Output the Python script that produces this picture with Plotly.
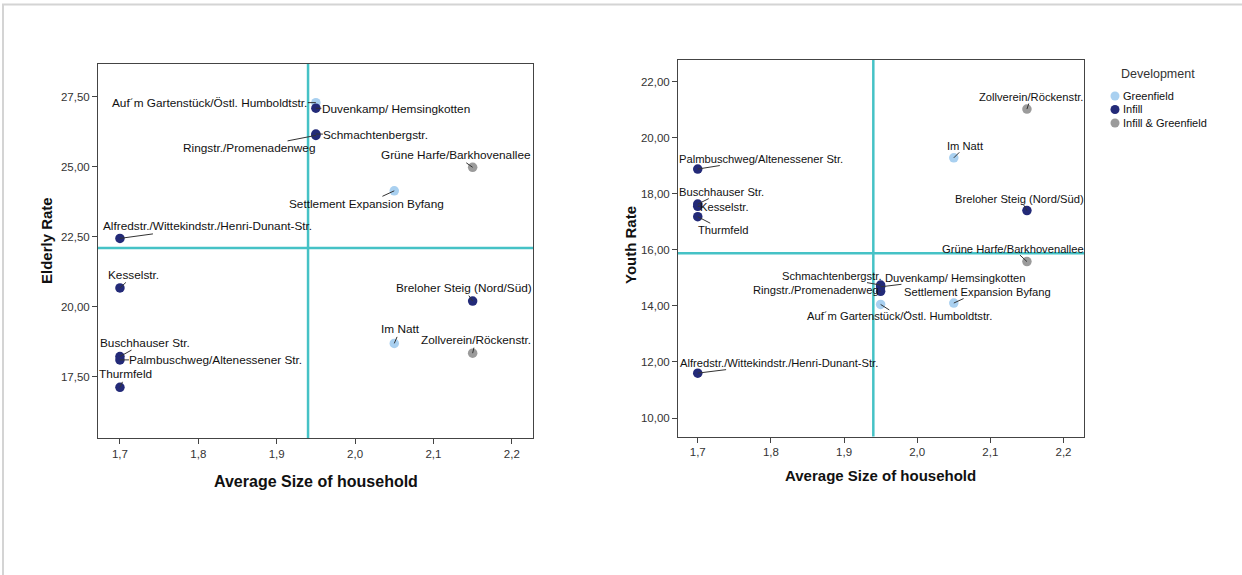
import plotly.graph_objects as go

# ---------------- data ----------------
names = [
    "Auf´m Gartenstück/Östl. Humboldtstr.",
    "Duvenkamp/ Hemsingkotten",
    "Schmachtenbergstr.",
    "Ringstr./Promenadenweg",
    "Grüne Harfe/Barkhovenallee",
    "Settlement Expansion Byfang",
    "Alfredstr./Wittekindstr./Henri-Dunant-Str.",
    "Kesselstr.",
    "Breloher Steig (Nord/Süd)",
    "Im Natt",
    "Zollverein/Röckenstr.",
    "Buschhauser Str.",
    "Palmbuschweg/Altenessener Str.",
    "Thurmfeld",
]
development = [
    "Greenfield", "Infill", "Infill", "Infill", "Infill & Greenfield",
    "Greenfield", "Infill", "Infill", "Infill", "Greenfield",
    "Infill & Greenfield", "Infill", "Infill", "Infill",
]
avg_household = [1.95, 1.95, 1.95, 1.95, 2.15, 2.05, 1.70, 1.70, 2.15, 2.05, 2.15, 1.70, 1.70, 1.70]
elderly_rate = [27.29, 27.09, 26.17, 26.12, 24.98, 24.14, 22.44, 20.67, 20.20, 18.69, 18.34, 18.22, 18.10, 17.12]
youth_rate = [14.05, 14.68, 14.74, 14.52, 15.58, 14.10, 11.60, 17.55, 17.40, 19.28, 21.02, 17.63, 18.88, 17.18]

categories = ["Greenfield", "Infill", "Infill & Greenfield"]
ref_household = 1.94
ref_elderly = 22.10
ref_youth = 15.88

x_ticks = [1.7, 1.8, 1.9, 2.0, 2.1, 2.2]
elderly_ticks = [17.5, 20.0, 22.5, 25.0, 27.5]
youth_ticks = [10, 12, 14, 16, 18, 20, 22]

# ---------------- styles / layout ----------------
W, H = 1242, 575
colors = {"Greenfield": "#a9d0f0", "Infill": "#232a78", "Infill & Greenfield": "#9b9b9b"}
FONT = "Liberation Sans, Arial, sans-serif"
REF_COLOR = "#45c2c6"

# label offsets (pixels) relative to points
left_off = [(-106, 0), (80, 1), (60, 1), (-67, 13), (-17, -12), (-28, 13), (88, -12),
            (14, -13), (-9, -13), (6, -14), (3, -13), (25, -14), (96, 0), (6, -13)]
right_off = [(19, 12), (75, -9), (-49, -9), (-65, -1), (-14, -13), (24, -11), (81, -10),
             (27, 1), (-7, -12), (12, -12), (4, -12), (24, -12), (63, -10), (25, 13)]


def px_x(p):
    return p / W


def px_y(p):
    return 1 - p / H


fig = go.Figure()

for cat in categories:
    idx = [i for i, d in enumerate(development) if d == cat]
    fig.add_trace(go.Scatter(
        x=[avg_household[i] for i in idx], y=[elderly_rate[i] for i in idx],
        mode="markers", marker=dict(size=9.5, color=colors[cat], line=dict(width=0)),
        name=cat, showlegend=False, xaxis="x", yaxis="y", hoverinfo="skip"))
    fig.add_trace(go.Scatter(
        x=[avg_household[i] for i in idx], y=[youth_rate[i] for i in idx],
        mode="markers", marker=dict(size=9.5, color=colors[cat], line=dict(width=0)),
        name=cat, showlegend=False, xaxis="x2", yaxis="y2", hoverinfo="skip"))

annotations = []
for i, n in enumerate(names):
    for xr, yr, yv, off, fs in (("x", "y", elderly_rate[i], left_off[i], 11.8),
                                ("x2", "y2", youth_rate[i], right_off[i], 11.2)):
        annotations.append(dict(
            x=avg_household[i], y=yv, xref=xr, yref=yr, text=n,
            showarrow=True, arrowhead=0, arrowwidth=1, arrowcolor="#333333",
            ax=off[0], ay=off[1], standoff=0, startstandoff=0,
            font=dict(family=FONT, size=fs, color="#111111"), borderpad=0))

# axis titles
title_font = dict(family=FONT, color="#111111")
annotations += [
    dict(text="<b>Average Size of household</b>", x=px_x(316), y=px_y(481), xref="paper", yref="paper",
         xanchor="center", yanchor="middle", showarrow=False, font=dict(size=16, **title_font)),
    dict(text="<b>Average Size of household</b>", x=px_x(880), y=px_y(475), xref="paper", yref="paper",
         xanchor="center", yanchor="middle", showarrow=False, font=dict(size=15, **title_font)),
    dict(text="<b>Elderly Rate</b>", x=px_x(46), y=px_y(241), xref="paper", yref="paper",
         xanchor="center", yanchor="middle", showarrow=False, textangle=-90,
         font=dict(size=15, **title_font)),
    dict(text="<b>Youth Rate</b>", x=px_x(630), y=px_y(245), xref="paper", yref="paper",
         xanchor="center", yanchor="middle", showarrow=False, textangle=-90,
         font=dict(size=15, **title_font)),
]

# custom legend
annotations.append(dict(text="Development", x=px_x(1158), y=px_y(74), xref="paper", yref="paper",
                        xanchor="center", yanchor="middle", showarrow=False,
                        font=dict(family=FONT, size=12.5, color="#333333")))
shapes = []
leg_y = [96, 109.5, 123]
for cat, ly in zip(categories, leg_y):
    annotations.append(dict(text=cat, x=px_x(1121), y=px_y(ly), xref="paper", yref="paper",
                            xanchor="left", yanchor="middle", showarrow=False,
                            font=dict(family=FONT, size=11, color="#111111")))
    shapes.append(dict(type="circle", xref="paper", yref="paper",
                       xsizemode="pixel", ysizemode="pixel",
                       xanchor=px_x(1115), yanchor=px_y(ly),
                       x0=-4.5, x1=4.5, y0=-4.5, y1=4.5,
                       fillcolor=colors[cat], line=dict(width=0)))

# reference lines
shapes += [
    dict(type="line", xref="x", yref="y domain", x0=ref_household, x1=ref_household, y0=0, y1=1,
         line=dict(color=REF_COLOR, width=2.5)),
    dict(type="line", xref="x domain", yref="y", x0=0, x1=1, y0=ref_elderly, y1=ref_elderly,
         line=dict(color=REF_COLOR, width=2.5)),
    dict(type="line", xref="x2", yref="y2 domain", x0=ref_household, x1=ref_household, y0=0, y1=1,
         line=dict(color=REF_COLOR, width=2.5)),
    dict(type="line", xref="x2 domain", yref="y2", x0=0, x1=1, y0=ref_youth, y1=ref_youth,
         line=dict(color=REF_COLOR, width=2.5)),
]
# outer frame (top and left light gray border)
shapes += [
    dict(type="line", xref="paper", yref="paper", x0=px_x(2), x1=1, y0=px_y(4.5), y1=px_y(4.5),
         line=dict(color="#d4d4d4", width=2)),
    dict(type="line", xref="paper", yref="paper", x0=px_x(3), x1=px_x(3), y0=px_y(4.5), y1=0,
         line=dict(color="#d4d4d4", width=2)),
]

axis_common = dict(showgrid=False, zeroline=False, showline=True, linecolor="#444444", linewidth=1,
                   mirror=True, ticks="outside", ticklen=5, tickcolor="#444444",
                   tickfont=dict(family=FONT, size=11.5, color="#333333"))

fig.update_layout(
    width=W, height=H, margin=dict(l=0, r=0, t=0, b=0),
    paper_bgcolor="white", plot_bgcolor="white", separators=",.",
    showlegend=False,
    xaxis=dict(domain=[px_x(98), px_x(533)], range=[1.672, 2.227], tickvals=x_ticks,
               tickformat=".1f", anchor="y", **axis_common),
    yaxis=dict(domain=[px_y(438), px_y(64)], range=[15.31, 28.67], tickvals=elderly_ticks,
               tickformat=".2f", anchor="x", **axis_common),
    xaxis2=dict(domain=[px_x(678), px_x(1084)], range=[1.673, 2.228], tickvals=x_ticks,
                tickformat=".1f", anchor="y2", **axis_common),
    yaxis2=dict(domain=[px_y(436.5), px_y(60)], range=[9.34, 22.77], tickvals=youth_ticks,
                tickformat=".2f", anchor="x2", **axis_common),
    annotations=annotations, shapes=shapes,
)

fig.write_html("out.html", config={"displayModeBar": False},
               post_script="document.body.style.margin='0';")
